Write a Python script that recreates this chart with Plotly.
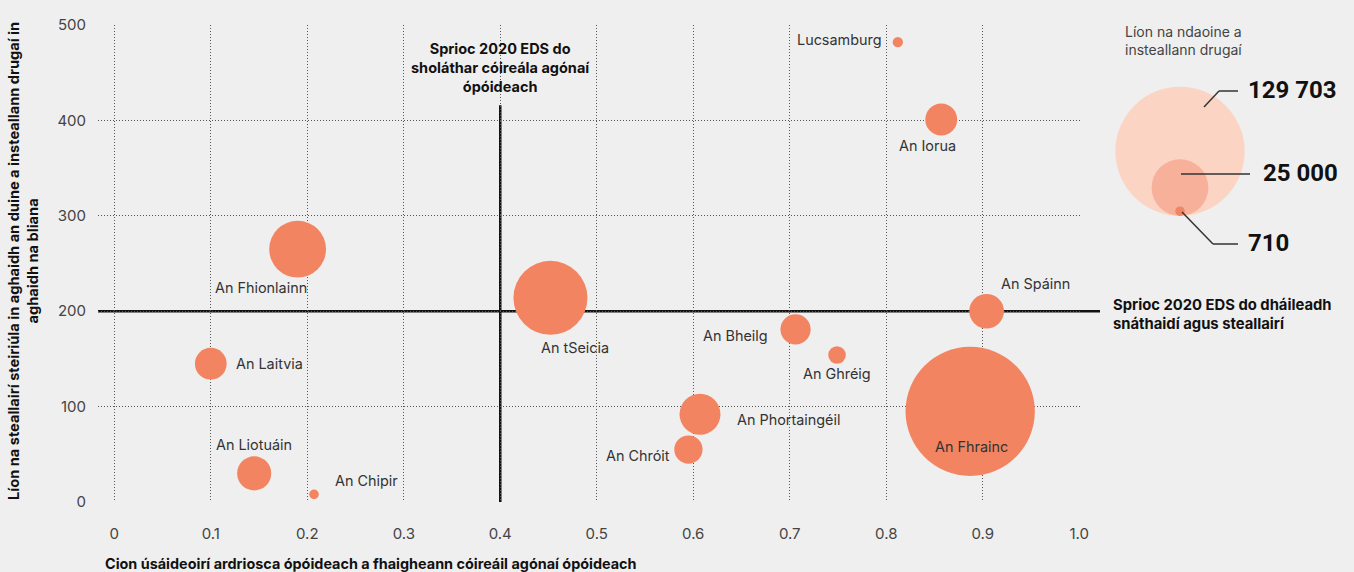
import plotly.graph_objects as go
import math

# ---------------- data ----------------
countries = ["Lucsamburg", "An Iorua", "An Fhionlainn", "An tSeicia", "An Spáinn",
             "An Bheilg", "An Ghréig", "An Laitvia", "An Phortaingéil", "An Fhrainc",
             "An Chróit", "An Liotuáin", "An Chipir"]
oat_share = [0.812, 0.857, 0.190, 0.452, 0.904,
             0.706, 0.749, 0.100, 0.607, 0.887,
             0.595, 0.145, 0.207]
syringes_per_pwid = [482, 401, 265, 214, 200,
                     181, 154, 145, 92, 95,
                     55, 30, 8]
pwid_count = [820, 7900, 25000, 42500, 9300,
              7100, 2400, 7800, 13000, 129703,
              6200, 9000, 710]

x_tick_vals = [0, 0.1, 0.2, 0.3, 0.4, 0.5, 0.6, 0.7, 0.8, 0.9, 1.0]
x_tick_text = ["0", "0.1", "0.2", "0.3", "0.4", "0.5", "0.6", "0.7", "0.8", "0.9", "1.0"]
y_tick_vals = [0, 100, 200, 300, 400, 500]

target_oat = 0.4
target_syringes = 200

legend_values = [129703, 25000, 710]
legend_labels = ["129 703", "25 000", "710"]

x_title = "Cion úsáideoirí ardriosca ópóideach a fhaigheann cóireáil agónaí ópóideach"
y_title = ("Líon na steallairí steiriúla in aghaidh an duine a insteallann drugaí in"
           "<br>aghaidh na bliana")
oat_target_text = "Sprioc 2020 EDS do<br>sholáthar cóireála agónaí<br>ópóideach"
nsp_target_text = "Sprioc 2020 EDS do dháileadh<br>snáthaidí agus steallairí"
legend_title = "Líon na ndaoine a<br>insteallann drugaí"

# ---------------- style / layout ----------------
W, H = 1354, 572
PLOT_L, PLOT_R, PLOT_T, PLOT_B = 98, 1080, 25, 502   # screen pixels
ML, MR, MT, MB = PLOT_L, W - PLOT_R, PLOT_T, H - PLOT_B
PW, PH = W - ML - MR, H - MT - MB

def px(xp):
    return (xp - PLOT_L) / PW

def py(yp):
    return (PLOT_B - yp) / PH

BG = "#efefef"
BUBBLE = "#f28462"
FONT = "Inter, Liberation Sans, Arial, sans-serif"
NUMFONT = "Roboto, Inter, Arial, sans-serif"
MAX_D = 129.3
sizeref = 2.0 * max(legend_values) / MAX_D ** 2

# label offsets (pixels) relative to each bubble: (xshift, yshift, xanchor)
label_offsets = {
    "Lucsamburg": (-15, 2, "right"),
    "An Iorua": (-14, -26, "center"),
    "An Fhionlainn": (-37, -38, "center"),
    "An tSeicia": (25, -50, "center"),
    "An Spáinn": (49, 28, "center"),
    "An Bheilg": (-60, -7, "center"),
    "An Ghréig": (0, -19, "center"),
    "An Laitvia": (59, 0, "center"),
    "An Phortaingéil": (88, -6, "center"),
    "An Fhrainc": (1, -35, "center"),
    "An Chróit": (-50, -6, "center"),
    "An Liotuáin": (0, 29, "center"),
    "An Chipir": (52, 14, "center"),
}

fig = go.Figure()
fig.add_trace(go.Scatter(
    x=oat_share, y=syringes_per_pwid, mode="markers",
    marker=dict(size=pwid_count, sizemode="area", sizeref=sizeref,
                color=BUBBLE, opacity=1, line=dict(width=0)),
    text=countries, hoverinfo="text", showlegend=False,
))

annotations = []
for name, xv, yv in zip(countries, oat_share, syringes_per_pwid):
    dx, dy, anc = label_offsets[name]
    annotations.append(dict(x=xv, y=yv, xref="x", yref="y", text=name,
                            showarrow=False, xshift=dx, yshift=dy, xanchor=anc,
                            yanchor="middle",
                            font=dict(family=FONT, size=14.4, color="#333333")))

shapes = [
    dict(type="line", xref="paper", yref="y", x0=0, x1=px(1100),
         y0=target_syringes, y1=target_syringes,
         line=dict(color="#111111", width=2.5), layer="below"),
    dict(type="line", xref="x", yref="y", x0=target_oat, x1=target_oat,
         y0=0, y1=416, line=dict(color="#111111", width=2.5), layer="below"),
]

# target annotations
annotations.append(dict(x=target_oat, xref="x", y=py(67), yref="paper",
                        text=oat_target_text, showarrow=False, align="center",
                        xanchor="center", yanchor="middle",
                        font=dict(family=FONT, size=14.5, color="#111111", weight="bold")))
annotations.append(dict(x=px(1111), xref="paper", y=py(314), yref="paper",
                        text=nsp_target_text, showarrow=False, align="left",
                        xanchor="left", yanchor="middle",
                        font=dict(family=FONT, size=14.8, color="#111111", weight="bold")))

# axis titles
annotations.append(dict(x=px(103), xref="paper", y=py(563), yref="paper",
                        text=x_title, showarrow=False, xanchor="left", yanchor="middle",
                        font=dict(family=FONT, size=14.4, color="#111111", weight="bold")))
annotations.append(dict(x=px(23), xref="paper", y=py(261), yref="paper",
                        text=y_title, showarrow=False, textangle=-90,
                        xanchor="center", yanchor="middle", align="center",
                        font=dict(family=FONT, size=14.6, color="#111111", weight="bold")))

# size legend
annotations.append(dict(x=px(1123), xref="paper", y=py(40), yref="paper",
                        text=legend_title, showarrow=False, xanchor="left", yanchor="middle",
                        align="left",
                        font=dict(family=FONT, size=14, color="#444444")))
legend_colors = ["#fcd4c4", "#f7b19a", "#f28462"]
cx, bottom = 1180, 216
for v, col in zip(legend_values, legend_colors):
    d = 2 * math.sqrt(v / (2 * sizeref))
    shapes.append(dict(type="circle", xref="paper", yref="paper",
                       xsizemode="pixel", ysizemode="pixel",
                       xanchor=px(cx), yanchor=py(bottom),
                       x0=-d / 2, x1=d / 2, y0=0, y1=d,
                       fillcolor=col, line=dict(width=0), layer="above"))

leader_paths = [
    [(1204, 107), (1219, 91), (1238, 91)],
    [(1181, 174), (1250, 174)],
    [(1182, 212), (1213, 244), (1238, 244)],
]
label_pos = [(1246, 90), (1261, 173), (1246, 243)]
for pts, lab, (lx, ly) in zip(leader_paths, legend_labels, label_pos):
    for (x0, y0), (x1, y1) in zip(pts[:-1], pts[1:]):
        shapes.append(dict(type="line", xref="paper", yref="paper",
                           x0=px(x0), y0=py(y0), x1=px(x1), y1=py(y1),
                           line=dict(color="#333333", width=1.5), layer="above"))
    annotations.append(dict(x=px(lx), xref="paper", y=py(ly), yref="paper",
                            text=lab, showarrow=False, xanchor="left", yanchor="middle",
                            font=dict(family=NUMFONT, size=24, color="#111111", weight="bold")))

grid = dict(showgrid=True, gridcolor="#555555", gridwidth=1, griddash="1px,2px",
            zeroline=False, showline=False)

fig.update_layout(
    width=W, height=H,
    margin=dict(l=ML, r=MR, t=MT, b=MB),
    paper_bgcolor=BG, plot_bgcolor=BG,
    font=dict(family=FONT, size=15, color="#444444"),
    xaxis=dict(range=[(PLOT_L - 114.3) / 965.7, 1.0008], tickvals=x_tick_vals,
               ticktext=x_tick_text, ticks="outside", ticklen=18, tickcolor=BG,
               tickfont=dict(size=15, color="#444444"), **grid),
    yaxis=dict(range=[0, 500], tickvals=y_tick_vals, ticks="outside", ticklen=8,
               tickcolor=BG, tickfont=dict(size=15, color="#444444"), **grid),
    shapes=shapes, annotations=annotations,
    showlegend=False,
)

fig.write_html(
    "out.html",
    config={"displayModeBar": False},
    post_script="document.body.style.margin='0';document.body.style.overflow='hidden';"
                "document.body.style.background='#efefef';",
)
